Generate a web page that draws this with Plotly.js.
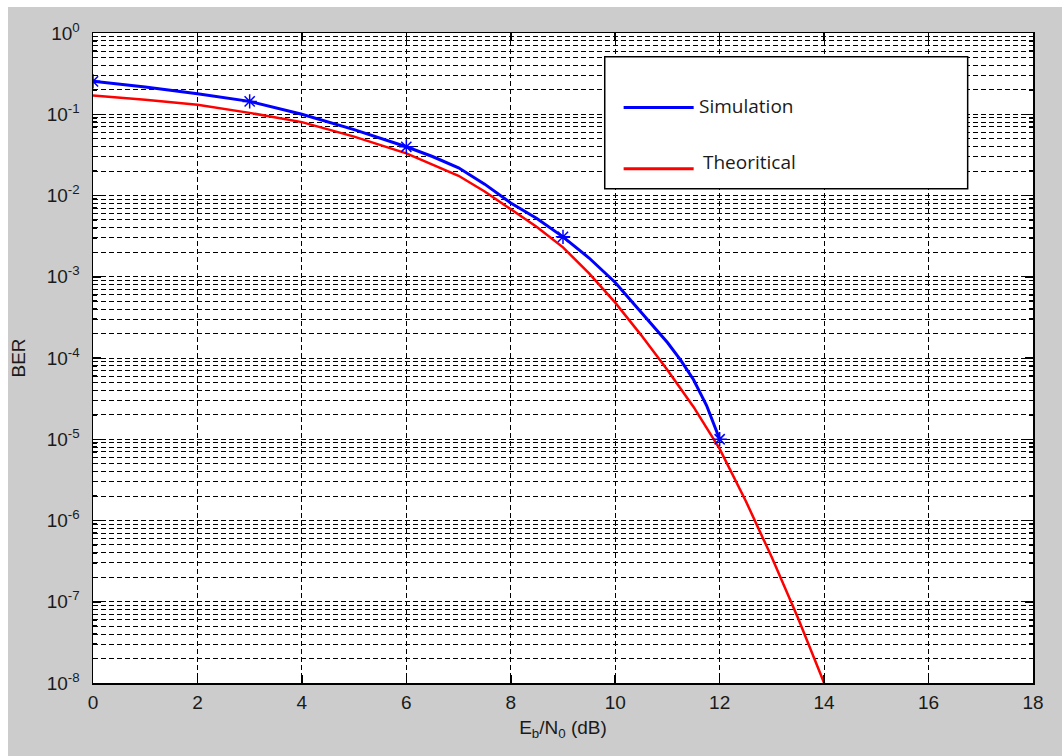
<!DOCTYPE html>
<html>
<head>
<meta charset="utf-8">
<script src="https://cdn.plot.ly/plotly-3.0.1.min.js"></script>
<style>
html,body{margin:0;padding:0;background:#ffffff;}
#chart{position:absolute;left:8px;top:7px;width:1054px;height:749px;}
</style>
</head>
<body>
<div id="chart"></div>
<script>
// Simulation (Eb/N0 in dB, BER)
var simX = [0, 1, 2, 3, 4, 5, 6, 6.5, 7, 7.5, 8, 8.5, 9, 9.5, 10, 10.5, 11, 11.25, 11.5, 11.75, 12];
var simBER = [0.254, 0.216, 0.179, 0.144, 0.100, 0.0646, 0.0398, 0.0302, 0.0219, 0.0138, 0.0081, 0.0052, 0.0031, 0.0017, 8.5e-4, 3.6e-4, 1.55e-4, 9.5e-5, 5.4e-5, 2.6e-5, 1.0e-5];
// Simulation marker points
var simMarkX = [0, 3, 6, 9, 12];
var simMarkBER = [0.254, 0.144, 0.0398, 0.0031, 1.0e-5];
// Theoretical
var thX = [0, 1, 2, 3, 4, 5, 6, 7, 7.5, 8, 8.5, 9, 9.5, 10, 10.5, 11, 11.5, 12, 12.5, 13, 13.5, 14];
var thBER = [0.17, 0.151, 0.131, 0.104, 0.080, 0.053, 0.033, 0.0175, 0.0112, 0.0068, 0.0041, 0.0023, 0.0011, 4.8e-4, 1.9e-4, 7.1e-5, 2.5e-5, 7.6e-6, 1.74e-6, 3.5e-7, 6.3e-8, 1.0e-8];
// Axis ticks
var xTicks = [0, 2, 4, 6, 8, 10, 12, 14, 16, 18];
var yTickVals = [1, 1e-1, 1e-2, 1e-3, 1e-4, 1e-5, 1e-6, 1e-7, 1e-8];
var yTickText = ['10<sup>0</sup>', '10<sup>-1</sup>', '10<sup>-2</sup>', '10<sup>-3</sup>', '10<sup>-4</sup>', '10<sup>-5</sup>', '10<sup>-6</sup>', '10<sup>-7</sup>', '10<sup>-8</sup>'];
var legendNames = ['Simulation', 'Theoritical'];

var gridCol = '#000000';
var font = {family: 'Liberation Sans, Arial, sans-serif', size: 19, color: '#1a1a1a'};
var legFont = {family: 'Open Sans, sans-serif', size: 19, color: '#1a1a1a'};

var traces = [
  {x: thX, y: thBER, type: 'scatter', mode: 'lines', name: legendNames[1],
   line: {color: '#ff0000', width: 2.5}, showlegend: false},
  {x: simX, y: simBER, type: 'scatter', mode: 'lines', name: legendNames[0],
   line: {color: '#0000ff', width: 3}, showlegend: false},
  {x: simMarkX, y: simMarkBER, type: 'scatter', mode: 'markers', showlegend: false,
   marker: {symbol: 'asterisk-open', size: 12, color: '#0000ff', line: {color: '#0000ff', width: 1.5}}}
];

var layout = {
  width: 1054, height: 749,
  paper_bgcolor: '#cccccc', plot_bgcolor: '#ffffff',
  margin: {l: 85, r: 29, t: 26, b: 73},
  font: font,
  showlegend: false,
  xaxis: {
    range: [0, 18], tickmode: 'array', tickvals: xTicks,
    showgrid: true, gridcolor: gridCol, griddash: '5px,3px', gridwidth: 1,
    zeroline: false, showline: true, linecolor: '#000', linewidth: 1.5, mirror: 'allticks',
    ticks: 'inside', ticklen: 8, tickcolor: '#000', tickwidth: 1.5,
    tickfont: font, ticklabelstandoff: 2,
    title: {text: 'E<sub>b</sub>/N<sub>0</sub> (dB)', font: font, standoff: 8}
  },
  yaxis: {
    type: 'log', range: [-8, 0], tickmode: 'array', tickvals: yTickVals, ticktext: yTickText,
    showgrid: true, gridcolor: gridCol, griddash: '5px,3px', gridwidth: 1,
    zeroline: false, showline: true, linecolor: '#000', linewidth: 1.5, mirror: 'allticks',
    ticks: 'inside', ticklen: 8, tickcolor: '#000', tickwidth: 1.5,
    tickfont: font, ticklabelstandoff: 8,
    minor: {dtick: 'D1', showgrid: true, gridcolor: gridCol, griddash: '5px,3px', gridwidth: 1,
            ticks: 'inside', ticklen: 4, tickcolor: '#000'},
    title: {text: 'BER', font: font, standoff: 24}
  },
  shapes: [
    {type: 'rect', xref: 'paper', yref: 'paper', x0: 0.5444, x1: 0.9305, y0: 0.7605, y1: 0.9635,
     fillcolor: '#ffffff', line: {color: '#000', width: 1.5}, layer: 'above'},
    {type: 'line', xref: 'paper', yref: 'paper', x0: 0.5645, x1: 0.6390, y0: 0.8855, y1: 0.8855,
     line: {color: '#0000ff', width: 3}, layer: 'above'},
    {type: 'line', xref: 'paper', yref: 'paper', x0: 0.5645, x1: 0.6390, y0: 0.7912, y1: 0.7912,
     line: {color: '#ff0000', width: 3}, layer: 'above'}
  ],
  annotations: [
    {xref: 'paper', yref: 'paper', x: 0.6422, y: 0.8870, xanchor: 'left', yanchor: 'middle',
     text: legendNames[0], showarrow: false, font: legFont},
    {xref: 'paper', yref: 'paper', x: 0.6472, y: 0.8020, xanchor: 'left', yanchor: 'middle',
     text: legendNames[1], showarrow: false, font: legFont}
  ]
};

Plotly.newPlot('chart', traces, layout, {displayModeBar: false, staticPlot: true});
</script>
</body>
</html>
